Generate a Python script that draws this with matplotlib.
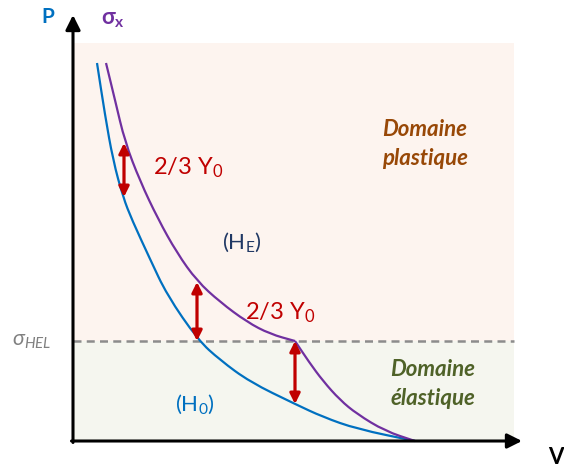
import numpy as np
import matplotlib
matplotlib.use("Agg")
from matplotlib import pyplot as plt
from matplotlib.patches import Rectangle, PathPatch
from matplotlib.path import Path

plt.rcParams['font.family'] = ['Lato', 'DejaVu Sans']
plt.rcParams['mathtext.default'] = 'regular'

# curve points (x = volume, y = pressure, chart units)
h0_x = [24, 32, 40, 50, 59, 77, 94, 125, 147, 177, 222, 250, 284, 342]
h0_y = [378, 326, 281, 244, 221, 182, 146, 101, 81, 59, 37, 24, 12, 0]

# Hugoniot of the elastic-plastic material: above HEL, then below HEL
he_up_x = [33, 42, 52, 67, 85, 104, 124, 147, 174, 197, 222]
he_up_y = [378, 341, 299, 260, 222, 188, 160, 139, 119, 107, 100]
he_lo_x = [222, 236, 250, 267, 284, 312, 342]
he_lo_y = [100, 79, 60, 41, 27, 10, 0]

# double arrows "2/3 Y0" : x position, top, bottom
arrow_x = [51, 124, 222]
arrow_top = [298, 159, 100]
arrow_bot = [244, 100, 37]

sigma_hel = 100
x_max = 441
y_max = 398

red = '#c00000'
blue = '#0070c0'
purple = '#7030a0'


def smooth_path(xs, ys):
    # quadratic bezier through mid points, the read points act as control points
    pts = np.column_stack([xs, ys]).astype(float)
    verts = [pts[0], (pts[0] + pts[1]) / 2]
    codes = [Path.MOVETO, Path.LINETO]
    for i in range(1, len(pts) - 1):
        verts += [pts[i], (pts[i] + pts[i + 1]) / 2]
        codes += [Path.CURVE3, Path.CURVE3]
    verts.append(pts[-1])
    codes.append(Path.LINETO)
    return Path(verts, codes)


fig = plt.figure(figsize=(5.64, 4.66), dpi=100)
ax = fig.add_axes([0, 0, 1, 1])
ax.set_xlim(-73, 491)
ax.set_ylim(-25, 441)
ax.axis('off')

# background domains
ax.add_patch(Rectangle((0, sigma_hel), x_max, y_max - sigma_hel, color='#fdf4ef', lw=0, zorder=0))
ax.add_patch(Rectangle((0, 0), x_max, sigma_hel, color='#f5f6ef', lw=0, zorder=0))

# HEL dashed line
hel, = ax.plot([0, x_max], [sigma_hel, sigma_hel], color='#8c8c8c', lw=1.8, zorder=1)
hel.set_dashes((3.2, 2.1))

ax.add_patch(PathPatch(smooth_path(h0_x, h0_y), fc='none', ec=blue, lw=1.6, zorder=2))
ax.add_patch(PathPatch(smooth_path(he_up_x, he_up_y), fc='none', ec=purple, lw=1.6, zorder=2))
ax.add_patch(PathPatch(smooth_path(he_lo_x, he_lo_y), fc='none', ec=purple, lw=1.6, zorder=2))

for xa, yt, yb in zip(arrow_x, arrow_top, arrow_bot):
    ax.annotate('', xy=(xa, yt), xytext=(xa, yb),
                arrowprops=dict(arrowstyle='<|-|>', color=red, lw=2.3,
                                mutation_scale=15, shrinkA=0, shrinkB=0), zorder=3)

# axes with arrows
ax.annotate('', xy=(0, 426), xytext=(0, -1.5),
            arrowprops=dict(arrowstyle='-|>', color='black', lw=2.2,
                            mutation_scale=22, shrinkA=0, shrinkB=0), zorder=4)
ax.annotate('', xy=(449, 0), xytext=(-1.5, 0),
            arrowprops=dict(arrowstyle='-|>', color='black', lw=2.2,
                            mutation_scale=22, shrinkA=0, shrinkB=0), zorder=4)

# labels
ax.text(-25, 424, 'P', color=blue, fontsize=15, fontweight='bold', ha='center', va='center')
ax.text(40, 421, 'σ$_x$', color=purple, fontsize=16, fontweight='bold', ha='center', va='center')
ax.text(475, -16, 'V', color='black', fontsize=16, fontweight='bold', ha='left', va='center')
ax.text(-41, 100, 'σ$_{HEL}$', color='#808080', fontsize=15.5, style='italic', ha='center', va='center')

ax.text(80, 273, '2/3 Y$_0$', color=red, fontsize=17, ha='left', va='center')
ax.text(172, 128, '2/3 Y$_0$', color=red, fontsize=17, ha='left', va='center')
ax.text(149, 199, '(H$_E$)', color='#203864', fontsize=16, ha='left', va='center')
ax.text(102, 37, '(H$_0$)', color=blue, fontsize=16, ha='left', va='center')

ax.text(352, 297, 'Domaine\nplastique', color='#984807', fontsize=16, fontweight='bold',
        style='italic', ha='center', va='center', linespacing=1.45)
ax.text(360, 57, 'Domaine\nélastique', color='#4f6228', fontsize=16, fontweight='bold',
        style='italic', ha='center', va='center', linespacing=1.45)

fig.savefig('out.png', dpi=100)
